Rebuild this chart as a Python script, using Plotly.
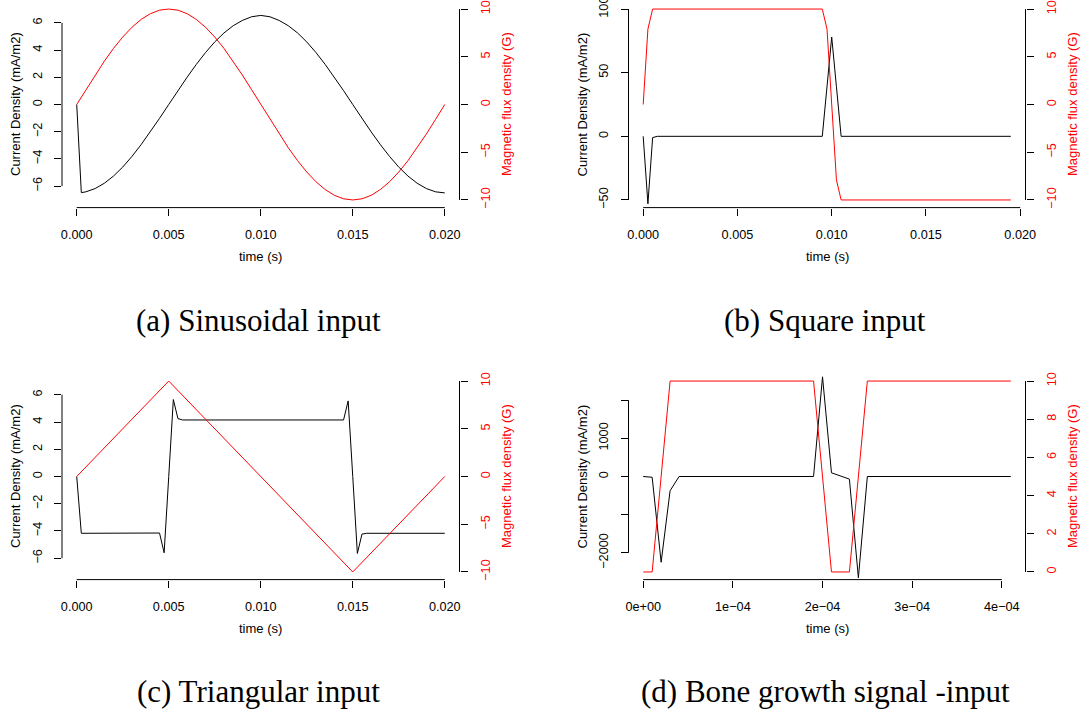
import plotly.graph_objects as go

W, H = 1081, 709

# ---------------- data ----------------
# (a) Sinusoidal input
t_a = [0, 0.00025, 0.0005, 0.001, 0.0015, 0.002, 0.0025, 0.003, 0.0035, 0.004, 0.0045,
       0.005, 0.0055, 0.006, 0.0065, 0.007, 0.0075, 0.008, 0.0085, 0.009, 0.0095,
       0.01, 0.0105, 0.011, 0.0115, 0.012, 0.0125, 0.013, 0.0135, 0.014, 0.0145,
       0.015, 0.0155, 0.016, 0.0165, 0.017, 0.0175, 0.018, 0.0185, 0.019, 0.0195, 0.02]
cur_a = [0, -6.48, -6.42, -6.18, -5.79, -5.26, -4.60, -3.82, -2.95, -2.01, -1.02,
         0, 1.02, 2.01, 2.95, 3.82, 4.60, 5.26, 5.79, 6.18, 6.45,
         6.55, 6.45, 6.18, 5.79, 5.26, 4.60, 3.82, 2.95, 2.01, 1.02,
         0, -1.02, -2.01, -2.95, -3.82, -4.60, -5.26, -5.79, -6.18, -6.42, -6.5]
mag_a = [0, 0.78, 1.56, 3.09, 4.54, 5.88, 7.07, 8.09, 8.91, 9.51, 9.88,
         10, 9.88, 9.51, 8.91, 8.09, 7.07, 5.88, 4.54, 3.09, 1.56,
         0, -1.56, -3.09, -4.54, -5.88, -7.07, -8.09, -8.91, -9.51, -9.88,
         -10, -9.88, -9.51, -8.91, -8.09, -7.07, -5.88, -4.54, -3.09, -1.56, 0]

# (b) Square input
t_cur_b = [0, 0.00025, 0.0005, 0.00075, 0.0095, 0.00975, 0.01, 0.01025, 0.0105, 0.0195]
cur_b = [0, -53, -1, 0, 0, 39, 78, 39, 0, 0]
t_mag_b = [0, 0.00025, 0.0005, 0.0095, 0.00975, 0.01, 0.01025, 0.0105, 0.0195]
mag_b = [0, 7.9, 10, 10, 7.9, 0, -7.9, -10, -10]

# (c) Triangular input
t_cur_c = [0, 0.00025, 0.0045, 0.00475, 0.005, 0.00525, 0.0055, 0.00575,
           0.0145, 0.01475, 0.015, 0.01525, 0.0155, 0.01575, 0.02]
cur_c = [0, -4.17, -4.15, -5.6, 0, 5.65, 4.25, 4.15,
         4.15, 5.55, 0, -5.65, -4.23, -4.17, -4.17]
t_mag_c = [0, 0.005, 0.015, 0.02]
mag_c = [0, 10, -10, 0]

# (d) Bone growth signal input
t_cur_d = [0, 1e-5, 2e-5, 3e-5, 4e-5, 1.9e-4, 2e-4, 2.1e-4, 2.3e-4, 2.4e-4, 2.5e-4, 4.1e-4]
cur_d = [0, -20, -2245, -373, 0, 0, 2611, 97, -68, -2653, 0, 0]
t_mag_d = [0, 1e-5, 3e-5, 1.9e-4, 2.1e-4, 2.3e-4, 2.5e-4, 4.1e-4]
mag_d = [0, 0, 10, 10, 0, 0, 10, 10]

# tick values / labels
xt_ms = [0, 0.005, 0.01, 0.015, 0.02]
xt_ms_txt = ["0.000", "0.005", "0.010", "0.015", "0.020"]
xt_d = [0, 1e-4, 2e-4, 3e-4, 4e-4]
xt_d_txt = ["0e+00", "1e\u221204", "2e\u221204", "3e\u221204", "4e\u221204"]
yl_ac = [-6, -4, -2, 0, 2, 4, 6]
yl_ac_txt = ["\u22126", "\u22124", "\u22122", "0", "2", "4", "6"]
yl_b = [-50, 0, 50, 100]
yl_b_txt = ["\u221250", "0", "50", "100"]
yl_d = [-2000, -1000, 0, 1000, 2000]
yl_d_txt = ["\u22122000", "", "0", "1000", ""]
yr_abc = [-10, -5, 0, 5, 10]
yr_abc_txt = ["\u221210", "\u22125", "0", "5", "10"]
yr_d = [0, 2, 4, 6, 8, 10]
yr_d_txt = ["0", "2", "4", "6", "8", "10"]

captions = ["(a) Sinusoidal input", "(b) Square input",
            "(c) Triangular input", "(d) Bone growth signal -input"]

# ---------------- layout geometry (pixels) ----------------
COL_X = [(62.0, 459.5), (628.5, 1025.5)]
ROW_Y = [(1.4, 207.6), (373.4, 579.6)]

def fx(p):
    return p / W

def fy(p):
    return 1 - p / H

panels = [
    dict(tc=t_a, c=cur_a, tm=t_a, m=mag_a, xr=[-0.0008, 0.0208], ylr=[-7.58, 7.58], yrr=[-10.8, 10.8],
         xt=xt_ms, xtt=xt_ms_txt, ylt=yl_ac, yltt=yl_ac_txt, yrt=yr_abc, yrtt=yr_abc_txt, col=0, row=0),
    dict(tc=t_cur_b, c=cur_b, tm=t_mag_b, m=mag_b, xr=[-0.00078, 0.02028], ylr=[-56, 106], yrr=[-10.8, 10.8],
         xt=xt_ms, xtt=xt_ms_txt, ylt=yl_b, yltt=yl_b_txt, yrt=yr_abc, yrtt=yr_abc_txt, col=1, row=0),
    dict(tc=t_cur_c, c=cur_c, tm=t_mag_c, m=mag_c, xr=[-0.0008, 0.0208], ylr=[-7.57, 7.57], yrr=[-10.8, 10.8],
         xt=xt_ms, xtt=xt_ms_txt, ylt=yl_ac, yltt=yl_ac_txt, yrt=yr_abc, yrtt=yr_abc_txt, col=0, row=1),
    dict(tc=t_cur_d, c=cur_d, tm=t_mag_d, m=mag_d, xr=[-0.0000164, 0.0004264], ylr=[-2700, 2700], yrr=[-0.4, 10.4],
         xt=xt_d, xtt=xt_d_txt, ylt=yl_d, yltt=yl_d_txt, yrt=yr_d, yrtt=yr_d_txt, col=1, row=1),
]

FONT = "Liberation Sans, Arial, Helvetica, sans-serif"
TICKSIZE = 12.7
TITLESIZE = 13
RED = "#FF0000"

fig = go.Figure()
layout = dict(width=W, height=H, margin=dict(l=0, r=0, t=0, b=0, autoexpand=False),
              paper_bgcolor="white", plot_bgcolor="white", showlegend=False)
shapes = []
annotations = []

for i, p in enumerate(panels):
    n = i + 1
    xid = "x" if n == 1 else f"x{n}"
    yl_n = 2 * i + 1
    yr_n = 2 * i + 2
    ylid = "y" if yl_n == 1 else f"y{yl_n}"
    yrid = f"y{yr_n}"
    x0p, x1p = COL_X[p["col"]]
    y0p, y1p = ROW_Y[p["row"]]

    fig.add_trace(go.Scatter(x=p["tc"], y=p["c"], mode="lines", xaxis=xid, yaxis=ylid,
                             line=dict(color="black", width=1), hoverinfo="skip"))
    fig.add_trace(go.Scatter(x=p["tm"], y=p["m"], mode="lines", xaxis=xid, yaxis=yrid,
                             line=dict(color=RED, width=1), hoverinfo="skip"))

    common = dict(showgrid=False, zeroline=False, showline=False, ticks="outside",
                  ticklen=7, tickwidth=1, tickcolor="black", tickmode="array",
                  ticklabeloverflow="allow", automargin=False)
    layout["xaxis" if n == 1 else f"xaxis{n}"] = dict(
        common, domain=[fx(x0p), fx(x1p)], anchor=ylid, range=p["xr"],
        tickvals=p["xt"], ticktext=p["xtt"], ticklabelstandoff=8,
        tickfont=dict(family=FONT, size=TICKSIZE, color="black"))
    layout["yaxis" if yl_n == 1 else f"yaxis{yl_n}"] = dict(
        common, domain=[fy(y1p), fy(y0p)], anchor=xid, range=p["ylr"], side="left",
        tickvals=p["ylt"], ticktext=p["yltt"], tickangle=-90, ticklabelstandoff=7,
        tickfont=dict(family=FONT, size=TICKSIZE, color="black"))
    layout[f"yaxis{yr_n}"] = dict(
        common, overlaying=ylid, anchor=xid, range=p["yrr"], side="right",
        tickvals=p["yrt"], ticktext=p["yrtt"], tickangle=-90, ticklabelstandoff=7,
        tickfont=dict(family=FONT, size=TICKSIZE, color=RED))

    # R-style axis lines spanning first to last tick
    lw = dict(color="black", width=1)
    shapes.append(dict(type="line", xref=xid, yref=f"{ylid} domain",
                       x0=p["xt"][0], x1=p["xt"][-1], y0=0, y1=0, line=lw))
    shapes.append(dict(type="line", xref=f"{xid} domain", yref=ylid,
                       x0=0, x1=0, y0=p["ylt"][0], y1=p["ylt"][-1], line=lw))
    shapes.append(dict(type="line", xref=f"{xid} domain", yref=yrid,
                       x0=1, x1=1, y0=p["yrt"][0], y1=p["yrt"][-1], line=lw))

    ymid = (y0p + y1p) / 2
    xmid = (x0p + x1p) / 2
    annotations.append(dict(text="Current Density (mA/m2)", xref="paper", yref="paper",
                            x=fx(x0p - 46.5), y=fy(ymid), textangle=-90, showarrow=False,
                            xanchor="center", yanchor="middle",
                            font=dict(family=FONT, size=TITLESIZE, color="black")))
    annotations.append(dict(text="Magnetic flux density (G)", xref="paper", yref="paper",
                            x=fx(x1p + 47), y=fy(ymid), textangle=-90, showarrow=False,
                            xanchor="center", yanchor="middle",
                            font=dict(family=FONT, size=TITLESIZE, color=RED)))
    annotations.append(dict(text="time (s)", xref="paper", yref="paper",
                            x=fx(xmid), y=fy(y1p + 48.5), showarrow=False,
                            xanchor="center", yanchor="middle",
                            font=dict(family=FONT, size=TITLESIZE, color="black")))
    annotations.append(dict(text=captions[i], xref="paper", yref="paper",
                            x=fx([258, 825][p["col"]]), y=fy([320, 691][p["row"]]),
                            showarrow=False, xanchor="center", yanchor="middle",
                            font=dict(family="Liberation Serif, Times New Roman, serif",
                                      size=31, color="black")))

layout["shapes"] = shapes
layout["annotations"] = annotations
fig.update_layout(**layout)
fig.write_html("out.html")
